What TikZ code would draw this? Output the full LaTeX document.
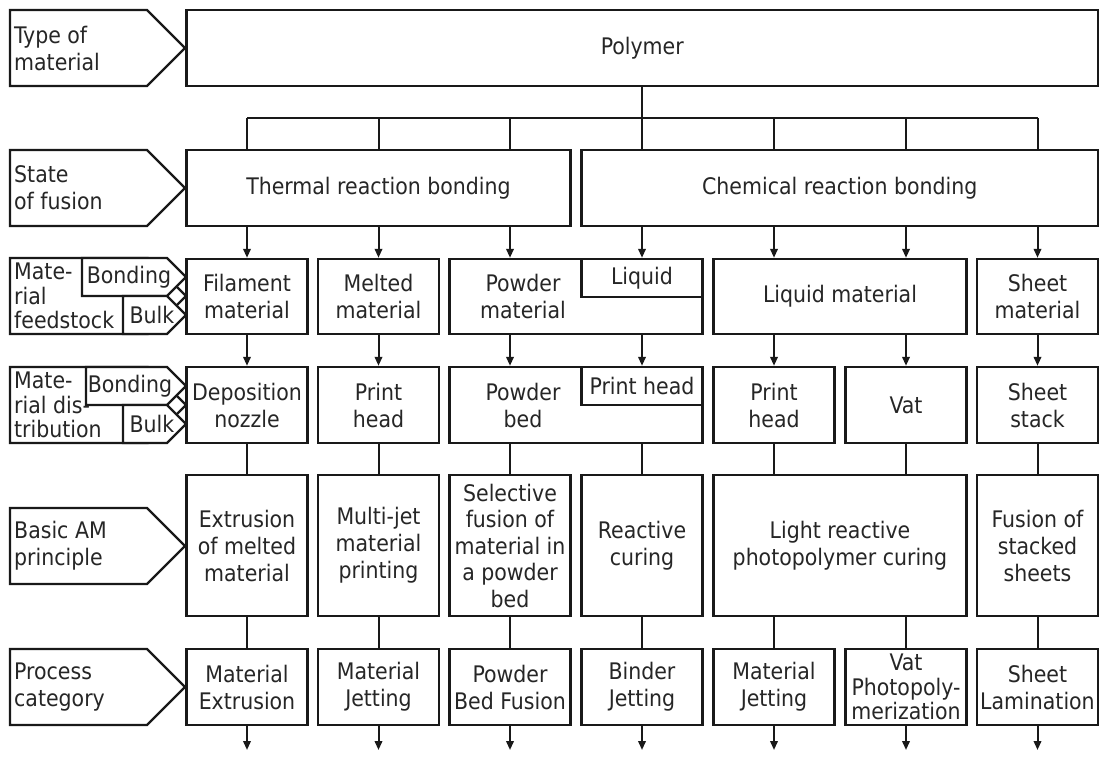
\documentclass[tikz,border=0pt]{standalone}
\usepackage{fontspec}
\setmainfont{DejaVu Sans Condensed}
\usetikzlibrary{arrows.meta}
\begin{document}
\begin{tikzpicture}[x=1pt,y=-1pt,
  txt/.style={font=\fontsize{22.8}{27}\selectfont, text=black!85, align=center, inner sep=0pt},
  box/.style={txt, draw=black!90, line width=2.4pt, fill=white, minimum height=76pt, minimum width=121pt},
  lab/.style={draw=black!90, line width=2.4pt, fill=white, line join=miter},
  ltxt/.style={txt, anchor=west, align=left},
  tight/.style={font=\fontsize{22.8}{24.5}\selectfont},
  conn/.style={draw=black!90, line width=2pt},
  arr/.style={conn, -{Triangle[length=9pt,width=7.5pt]}},
]
\useasboundingbox (0,0) rectangle (1103,761);

% column coordinates
\coordinate (k1) at (247,0);
\coordinate (k2) at (378.5,0);
\coordinate (k3) at (510,0);
\coordinate (k4) at (642,0);
\coordinate (k5) at (774,0);
\coordinate (k6) at (906,0);
\coordinate (k7) at (1037.5,0);
\coordinate (bus) at (0,118);
\coordinate (end) at (0,750);

% ---------- left labels ----------
\path[lab] (10,10) -- (147,10) -- (185,48) -- (147,86) -- (10,86) -- cycle;
\node[ltxt] (l1) at (14,48) {Type of\\material};

\path[lab] (10,150) -- (147,150) -- (185,188) -- (147,226) -- (10,226) -- cycle;
\node[ltxt] (l2) at (14,188) {State\\of fusion};

\path[lab] (10,258) -- (148,258) -- (186,296) -- (148,334) -- (10,334) -- cycle;
\path[lab] (82,258) -- (167,258) -- (186,277) -- (167,296) -- (82,296) -- cycle;
\path[lab] (123,296) -- (167,296) -- (186,315) -- (167,334) -- (123,334) -- cycle;
\node[ltxt, tight] (l3) at (14,296) {Mate-\\rial\\feedstock};
\node[txt] (l3a) at (129,277) {Bonding};
\node[txt] (l3b) at (152,315) {Bulk};

\path[lab] (10,367) -- (148,367) -- (186,405) -- (148,443) -- (10,443) -- cycle;
\path[lab] (86,367) -- (167,367) -- (186,386) -- (167,405) -- (86,405) -- cycle;
\path[lab] (123,405) -- (167,405) -- (186,424) -- (167,443) -- (123,443) -- cycle;
\node[ltxt, tight] (l4) at (14,405) {Mate-\\rial dis-\\tribution};
\node[txt] (l4a) at (130,386) {Bonding};
\node[txt] (l4b) at (152,424) {Bulk};

\path[lab] (10,508) -- (147,508) -- (185,546) -- (147,584) -- (10,584) -- cycle;
\node[ltxt] (l5) at (14,546) {Basic AM\\principle};

\path[lab] (10,649) -- (147,649) -- (185,687) -- (147,725) -- (10,725) -- cycle;
\node[ltxt] (l6) at (14,687) {Process\\category};

% ---------- row A, B ----------
\node[box, minimum width=911.5pt] (poly) at (642.25,48) {Polymer};
\node[box, minimum width=384pt] (therm) at (378.5,188) {Thermal reaction bonding};
\node[box, minimum width=516.5pt] (chem) at (839.75,188) {Chemical reaction bonding};

% ---------- row C ----------
\node[box, minimum height=75pt] (fm) at (247,296.5) {Filament\\material};
\node[box, minimum height=75pt] (mm) at (378.5,296.5) {Melted\\material};
\node[box, minimum height=75pt, minimum width=253pt] (pm) at (576,296.5) {};
\node[txt] (pmt) at (523,296.5) {Powder\\material};
\node[box, minimum height=38pt] (lq) at (642,278) {Liquid};
\node[box, minimum height=75pt, minimum width=253pt] (lm) at (840,296.5) {Liquid material};
\node[box, minimum height=75pt] (sm) at (1037.5,296.5) {Sheet\\material};

% ---------- row D ----------
\node[box] (dn) at (247,405) {Deposition\\nozzle};
\node[box] (ph1) at (378.5,405) {Print\\head};
\node[box, minimum width=253pt] (pb) at (576,405) {};
\node[txt] (pbt) at (523,405) {Powder\\bed};
\node[box, minimum height=38pt] (ph2) at (642,386) {Print head};
\node[box] (ph3) at (774,405) {Print\\head};
\node[box] (vat) at (906,405) {Vat};
\node[box] (ss) at (1037.5,405) {Sheet\\stack};

% ---------- row E ----------
\node[box, minimum height=141pt] (ex) at (247,545.5) {Extrusion\\of melted\\material};
\node[box, minimum height=141pt] (mj) at (378.5,545.5) {Multi-jet\\material\\printing};
\node[box, minimum height=141pt, font=\fontsize{22.8}{26.5}\selectfont] (sf) at (510,545.5) {Selective\\fusion of\\material in\\a powder\\bed};
\node[box, minimum height=141pt] (rc) at (642,545.5) {Reactive\\curing};
\node[box, minimum height=141pt, minimum width=253pt] (lr) at (840,545.5) {Light reactive\\photopolymer curing};
\node[box, minimum height=141pt] (fs) at (1037.5,545.5) {Fusion of\\stacked\\sheets};

% ---------- row F ----------
\node[box] (f1) at (247,687) {Material\\Extrusion};
\node[box] (f2) at (378.5,687) {Material\\Jetting};
\node[box] (f3) at (510,687) {Powder\\Bed Fusion};
\node[box] (f4) at (642,687) {Binder\\Jetting};
\node[box] (f5) at (774,687) {Material\\Jetting};
\node[box, tight] (f6) at (906,687) {Vat\\Photopoly-\\merization};
\node[box] (f7) at (1037.5,687) {Sheet\\Lamination};

% ---------- connectors ----------
\draw[conn] (poly.south -| k4) -- (chem.north -| k4);
\draw[conn] (bus -| k1) -- (bus -| k7);
\draw[conn] (bus -| k1) -- (therm.north -| k1);
\draw[conn] (bus -| k2) -- (therm.north -| k2);
\draw[conn] (bus -| k3) -- (therm.north -| k3);
\draw[conn] (bus -| k5) -- (chem.north -| k5);
\draw[conn] (bus -| k6) -- (chem.north -| k6);
\draw[conn] (bus -| k7) -- (chem.north -| k7);

\draw[arr] (therm.south -| fm) -- (fm.north);
\draw[arr] (therm.south -| mm) -- (mm.north);
\draw[arr] (therm.south -| k3) -- (pm.north -| k3);
\draw[arr] (chem.south -| lq) -- (lq.north);
\draw[arr] (chem.south -| k5) -- (lm.north -| k5);
\draw[arr] (chem.south -| k6) -- (lm.north -| k6);
\draw[arr] (chem.south -| sm) -- (sm.north);

\draw[arr] (fm.south) -- (dn.north);
\draw[arr] (mm.south) -- (ph1.north);
\draw[arr] (pm.south -| k3) -- (pb.north -| k3);
\draw[arr] (pm.south -| k4) -- (pb.north -| k4);
\draw[arr] (lm.south -| ph3) -- (ph3.north);
\draw[arr] (lm.south -| vat) -- (vat.north);
\draw[arr] (sm.south) -- (ss.north);

\draw[conn] (dn.south) -- (ex.north);
\draw[conn] (ph1.south) -- (mj.north);
\draw[conn] (pb.south -| sf) -- (sf.north);
\draw[conn] (pb.south -| rc) -- (rc.north);
\draw[conn] (ph3.south) -- (lr.north -| ph3);
\draw[conn] (vat.south) -- (lr.north -| vat);
\draw[conn] (ss.south) -- (fs.north);

\draw[conn] (ex.south) -- (f1.north);
\draw[conn] (mj.south) -- (f2.north);
\draw[conn] (sf.south) -- (f3.north);
\draw[conn] (rc.south) -- (f4.north);
\draw[conn] (lr.south -| f5) -- (f5.north);
\draw[conn] (lr.south -| f6) -- (f6.north);
\draw[conn] (fs.south) -- (f7.north);

\foreach \n in {f1,f2,f3,f4,f5,f6,f7}
  \draw[arr] (\n.south) -- (\n.south |- end);
\end{tikzpicture}
\end{document}
